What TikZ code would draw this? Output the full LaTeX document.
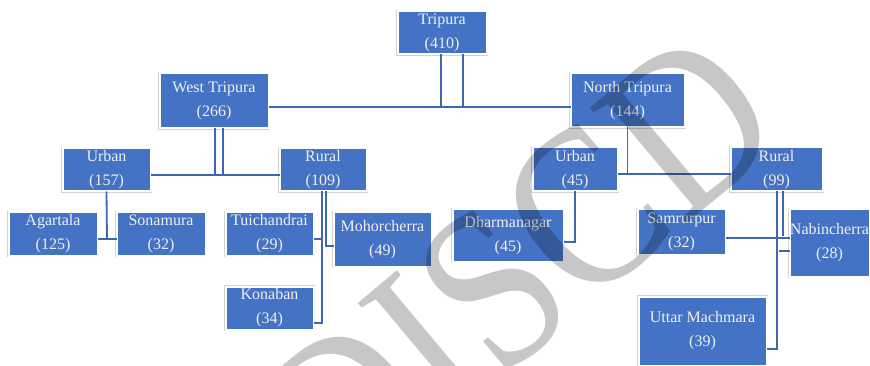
\documentclass[tikz,border=0pt]{standalone}
\usepackage{fontspec}
\setmainfont{Liberation Serif}

\definecolor{boxblue}{HTML}{4472C4}
\definecolor{linkblue}{HTML}{3F66B0}

\tikzstyle{orgchart}=[x=1pt,y=-1pt]
\tikzstyle{distbox}=[fill=boxblue, draw=white, line width=2pt,
  preaction={draw=gray!35, line width=3.4pt},
  text=white!94!black, align=center, inner sep=0pt, outer sep=0pt,
  font=\fontsize{16}{24}\selectfont]
\tikzstyle{link}=[draw=linkblue, line width=1.8pt]

\begin{document}
\begin{tikzpicture}[style=orgchart]
\clip (0,0) rectangle (870,366);

\node[distbox, minimum width=89pt, minimum height=43pt] (tripura) at (442,33) {Tripura\\(410)};
\node[distbox, minimum width=109pt, minimum height=55pt] (west) at (214,101) {West Tripura\\(266)};
\node[distbox, minimum width=114pt, minimum height=54pt] (north) at (627.5,100.5) {North Tripura\\(144)};

\node[distbox, minimum width=88pt, minimum height=43pt] (wurban) at (106.5,170) {Urban\\(157)};
\node[distbox, minimum width=87pt, minimum height=43pt] (wrural) at (323,170) {Rural\\(109)};
\node[distbox, minimum width=85pt, minimum height=44pt] (nurban) at (575,169.5) {Urban\\(45)};
\node[distbox, minimum width=92pt, minimum height=44pt] (nrural) at (776.5,169.5) {Rural\\(99)};

\node[distbox, minimum width=89pt, minimum height=43pt] (agartala) at (53,234) {Agartala\\(125)};
\node[distbox, minimum width=89pt, minimum height=43pt] (sonamura) at (161,234) {Sonamura\\(32)};
\node[distbox, minimum width=88pt, minimum height=43pt] (tuichandrai) at (269.5,234) {Tuichandrai\\(29)};
\node[distbox, minimum width=98pt, minimum height=54pt] (mohorcherra) at (382.5,239.5) {Mohorcherra\\(49)};
\node[distbox, minimum width=88pt, minimum height=43pt] (konaban) at (269.5,308) {Konaban\\(34)};

\node[distbox, minimum width=111pt, minimum height=52pt] (dharmanagar) at (508,235.5) {Dharmanagar\\(45)};
\node[distbox, minimum width=88pt, minimum height=45pt] (samrurpur) at (681.5,232) {Samrurpur\\(32)};
\node[distbox, minimum width=80pt, minimum height=67pt] (nabincherra) at (829.5,243) {Nabincherra\\(28)};
\node[distbox, minimum width=128pt, minimum height=69pt] (uttar) at (702.5,331) {Uttar Machmara\\(39)};

% state level
\coordinate (tbus) at (441,107);
\draw[link] ([xshift=-1pt]tripura.south) -- ([xshift=-1pt]tripura.south |- tbus) -- ([xshift=21pt]tripura.south |- tbus) -- ([xshift=21pt]tripura.south);
\draw[link] (west.east |- tbus) -- (north.west |- tbus);

% west tripura
\coordinate (wbus) at (215,175);
\draw[link] ([xshift=1pt]west.south) -- ([xshift=1pt]west.south |- wbus) -- ([xshift=9pt]west.south |- wbus) -- ([xshift=9pt]west.south);
\draw[link] (wurban.east |- wbus) -- (wrural.west |- wbus);

\coordinate (ubus) at (107,239);
\draw[link] (wurban.south) -- (ubus);
\draw[link] (agartala.east |- ubus) -- (sonamura.west |- ubus);

\draw[link] ([xshift=-1pt]wrural.south) |- ([yshift=-15pt]konaban.east);
\draw[link] ([xshift=3pt]wrural.south) |- ([yshift=-6.5pt]mohorcherra.west);
\draw[link] ([yshift=-5pt]tuichandrai.east) -- ++(7,0);

% north tripura
\coordinate (nbus) at (628,174);
\draw[link] (north.south) -- (north.south |- nbus);
\draw[link] (nurban.east |- nbus) -- (nrural.west |- nbus);

\draw[link] (nurban.south) |- ([yshift=-6.5pt]dharmanagar.east);

\draw[link] ([xshift=0.5pt]nrural.south) |- ([yshift=-18pt]uttar.east);
\draw[link] ([xshift=6.5pt]nrural.south) -- ++(0,45);
\draw[link] ([yshift=-6pt]samrurpur.east) -- ([yshift=-6pt]samrurpur.east -| nabincherra.west);
\draw[link] ([yshift=-8pt]nabincherra.west) -- ++(-11,0);

% watermark
\node[rotate=40, xscale=0.85, text=black, text opacity=0.22, inner sep=0pt,
  font=\fontsize{230}{230}\selectfont] (stamp) at (518,268) {DISCD};
\end{tikzpicture}
\end{document}
